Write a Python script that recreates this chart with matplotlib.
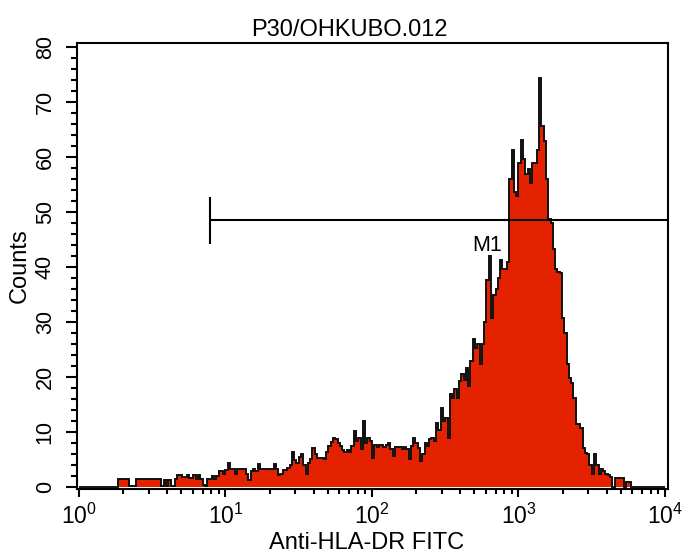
import numpy as np
import matplotlib
matplotlib.use('Agg')
import matplotlib.pyplot as plt
from matplotlib.ticker import LogLocator, FixedLocator, MultipleLocator, FuncFormatter

plt.rcParams['font.family'] = ['Liberation Sans', 'DejaVu Sans']

# 256 log channels over 10^0 .. 10^4
counts = [
    0, 0, 0, 0, 0, 0, 0, 0, 0, 0, 0, 0, 0, 0, 0, 0,
    0, 1.5, 1.5, 1.5, 1.5, 1.5, 0.3, 0.3, 0.3, 1.5, 1.5, 1.5, 1.5, 1.5, 1.5, 1.5,
    1.5, 1.5, 1.5, 1.5, 0.3, 1.3, 0.3, 1.3, 0.3, 0.3, 1.5, 2.3, 2.3, 1.8, 1.8, 2.3,
    1.7, 1.7, 2.3, 1.5, 2.3, 1.5, 0.5, 0.3, 1.5, 1.5, 2, 1.5, 2, 3, 3, 2.5,
    3.2, 4.5, 3.3, 3.3, 2.5, 3.3, 3.3, 3.3, 3.3, 2.5, 1.3, 3, 3.3, 3, 4.3, 3.4,
    3.4, 3.4, 3.4, 3.4, 3.4, 4.3, 3.3, 2.2, 2.5, 3.2, 3.2, 3.5, 4, 6.4, 5, 4.5,
    5.5, 6.1, 4, 2.5, 4.5, 5.2, 7.2, 6, 5.4, 5.4, 5.4, 5.2, 6.5, 7.5, 8.2, 9,
    8.8, 8, 7.5, 6.7, 6.5, 6.7, 6.5, 7.5, 10.3, 8.5, 9, 7, 12.1, 8, 9, 8.5,
    5.4, 7.6, 7.3, 7.6, 7.6, 7.3, 7.6, 8, 7, 5.7, 7.3, 7.3, 7.3, 7, 7.3, 7,
    5.2, 7.5, 9, 8, 7.2, 4.8, 6, 8, 7.5, 8.8, 9, 8.5, 11.6, 10.5, 14.5, 12,
    12.6, 9, 17, 16.3, 17.8, 16.3, 19.3, 20.6, 19.5, 21.7, 18.4, 22.9, 27, 25.3, 26, 22.4,
    26, 30, 37.7, 42, 30.7, 35, 36, 38, 41.3, 39.7, 39.7, 41, 56, 61.4, 53.6, 53,
    59, 63.2, 59.6, 57, 57.8, 55.4, 59, 59, 61.4, 74.4, 65.7, 63, 56, 48.7, 48, 43.3,
    39.7, 39.2, 39, 30.7, 28, 22.4, 19.9, 19, 16.3, 11.5, 11.5, 10.8, 7.2, 6.3, 6, 4,
    2.5, 6.1, 4, 2.5, 3.4, 3, 2.5, 2.2, 1.9, 0, 1.6, 1.6, 1.6, 1.6, 0, 0.9,
    0.9, 0, 0, 0, 0, 0, 0, 0, 0, 0, 0, 0, 0, 0, 0, 0,
]
n_channels = len(counts)
decades = 4

# marker M1
m1_start = 7.9
m1_level = 48.5
m1_label = 'M1'

edges = 10 ** (np.arange(n_channels + 1) * decades / n_channels)

fig = plt.figure(figsize=(6.84, 5.59), dpi=100)
ax = fig.add_axes([0.1121, 0.1258, 0.8640, 0.7967])

ax.stairs(counts, edges, fill=True, color='#e42200', baseline=0, linewidth=0)
ax.stairs(counts, edges, baseline=None, color='#111111', linewidth=1.4)

ax.set_xscale('log')
ax.set_xlim(0.9645, 10433)
ax.set_ylim(-0.25, 80.7)

# M1 gate
ax.plot([m1_start, ax.get_xlim()[1]], [m1_level, m1_level], color='black', lw=1.5, solid_capstyle='butt')
ax.plot([m1_start, m1_start], [m1_level - 4.2, m1_level + 4.2], color='black', lw=1.5, solid_capstyle='butt')
ax.text(482, 43.0, m1_label, fontsize=15.5, ha='left', va='baseline')

ax.xaxis.set_major_locator(FixedLocator([1, 10, 100, 1000, 10000]))
ax.xaxis.set_minor_locator(LogLocator(base=10, subs=np.arange(2, 10), numticks=20))
ax.xaxis.set_major_formatter(FuncFormatter(lambda v, p: r'$\mathregular{10^{%d}}$' % round(np.log10(v))))
ax.yaxis.set_major_locator(MultipleLocator(10))
ax.yaxis.set_minor_locator(MultipleLocator(2))

for s in ax.spines.values():
    s.set_linewidth(1.5)
ax.tick_params(axis='both', which='both', direction='out', width=1.5, top=False, right=False)
ax.tick_params(axis='y', which='major', length=8, pad=7, labelsize=15.5)
ax.tick_params(axis='y', which='minor', length=4.3)
ax.tick_params(axis='x', which='major', length=6, pad=5, labelsize=16.5)
ax.tick_params(axis='x', which='minor', length=3.6)
plt.yticks(rotation=90, va='center')

ax.set_title('P30/OHKUBO.012', fontsize=17, pad=5, x=0.4616)
ax.set_xlabel('Anti-HLA-DR FITC', fontsize=17, labelpad=2, x=0.491)
ax.set_ylabel('Counts', fontsize=17, labelpad=3)

fig.savefig('out.png', dpi=100)
